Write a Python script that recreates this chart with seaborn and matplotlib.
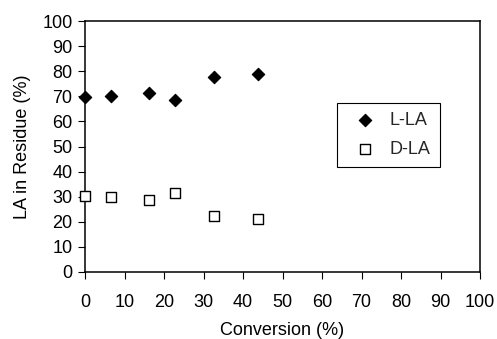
import matplotlib
matplotlib.use("Agg")
import matplotlib.pyplot as plt
import seaborn as sns
import pandas as pd

conversion = [0, 6.5, 16.3, 22.9, 32.6, 43.9]
l_la = [69.8, 70.2, 71.5, 68.6, 77.7, 78.9]
d_la = [30.4, 29.7, 28.6, 31.4, 22.3, 21.2]
series_names = ["L-LA", "D-LA"]
x_ticks = list(range(0, 101, 10))
y_ticks = list(range(0, 101, 10))

df = pd.DataFrame({
    "Conversion": conversion * 2,
    "LA": l_la + d_la,
    "Series": [series_names[0]] * len(conversion) + [series_names[1]] * len(conversion),
})

sns.set_theme(style="white")
plt.rcParams["font.family"] = ["Liberation Sans", "DejaVu Sans"]

fig = plt.figure(figsize=(4.97, 3.39), dpi=100)
ax = fig.add_axes([85 / 497, 1 - 272 / 339, 395 / 497, 251 / 339])

sns.scatterplot(data=df[df.Series == "L-LA"], x="Conversion", y="LA", ax=ax,
                marker="D", s=40, color="black", edgecolor="black", linewidth=0.8,
                label="L-LA", clip_on=False, zorder=3)
sns.scatterplot(data=df[df.Series == "D-LA"], x="Conversion", y="LA", ax=ax,
                marker="s", s=42, facecolor="white", edgecolor="black", linewidth=1.0,
                label="D-LA", clip_on=False, zorder=3)

ax.set_xlim(0, 100)
ax.set_ylim(0, 100)
ax.set_xticks(x_ticks)
ax.set_yticks(y_ticks)
ax.tick_params(axis="both", direction="out", length=5, width=0.8, color="black",
               labelsize=13, labelcolor="black", bottom=True, left=True, pad=4)
ax.tick_params(axis="x", pad=11)
for sp in ax.spines.values():
    sp.set_visible(True)
    sp.set_color("black")
    sp.set_linewidth(1.1)
ax.set_xlabel("Conversion (%)", fontsize=13, color="black", labelpad=8)
ax.set_ylabel("LA in Residue (%)", fontsize=13, color="black", labelpad=8)

leg = ax.legend(loc="upper left", bbox_to_anchor=(0.639, 0.6745), fontsize=13,
                frameon=True, fancybox=False, edgecolor="black", framealpha=1,
                borderpad=0.5, labelspacing=0.67, handletextpad=0.3,
                handlelength=2.1, borderaxespad=0)
leg.get_frame().set_linewidth(0.8)

fig.savefig("out.png", dpi=100)
